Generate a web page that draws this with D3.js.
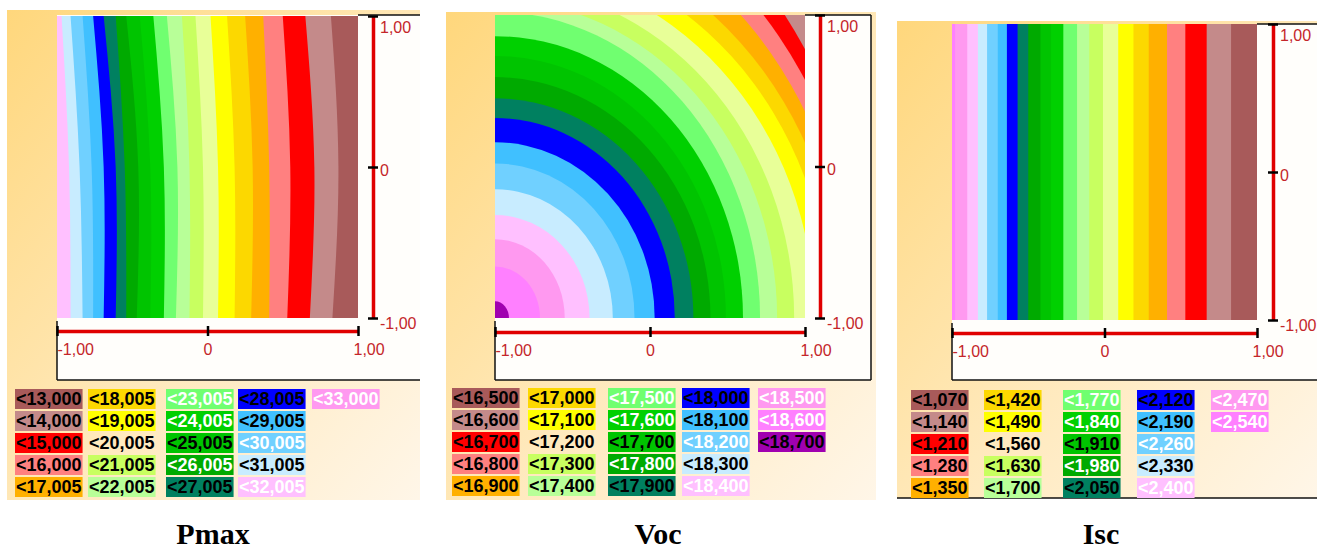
<!DOCTYPE html>
<html>
<head>
<meta charset="utf-8">
<script src="https://cdn.jsdelivr.net/npm/d3@7"></script>
<style>
  body { margin: 0; background: #fff; }
  svg { display: block; }
</style>
</head>
<body>
<svg id="chart" width="1317" height="551"></svg>
<script>
// colour of each band, from lowest level up
const bandColors = ['#a85a5a', '#c48a8a', '#ff0000', '#ff8080', '#ffb000', '#fcd800', '#ffff00',
  '#e8ff98', '#c8ff60', '#b8ff98', '#70ff70', '#00d000', '#00c400', '#00aa00', '#008060',
  '#0000ff', '#40c0ff', '#70d0ff', '#c8ecff', '#ffc0ff', '#ff99f0', '#ff80ff', '#a000b0'];
const legendTextColors = ['#000', '#000', '#000', '#000', '#000', '#000', '#000', '#000', '#000', '#000',
  '#fff', '#fff', '#000', '#fff', '#000', '#000', '#000', '#fff', '#000', '#fff', '#fff', '#fff', '#000'];

const pmaxLevels = [13.000, 14.000, 15.000, 16.000, 17.005, 18.005, 19.005, 20.005, 21.005, 22.005,
  23.005, 24.005, 25.005, 26.005, 27.005, 28.005, 29.005, 30.005, 31.005, 32.005, 33.000];
const vocLevels = [16.5, 16.6, 16.7, 16.8, 16.9, 17.0, 17.1, 17.2, 17.3, 17.4, 17.5, 17.6,
  17.7, 17.8, 17.9, 18.0, 18.1, 18.2, 18.3, 18.4, 18.5, 18.6, 18.7];
const iscLevels = [1.070, 1.140, 1.210, 1.280, 1.350, 1.420, 1.490, 1.560, 1.630, 1.700, 1.770,
  1.840, 1.910, 1.980, 2.050, 2.120, 2.190, 2.260, 2.330, 2.400, 2.470, 2.540];

// Pmax iso-lines: x where each level crosses y = 1, 0, -1
const pmaxLines = [
  [0.82, 0.87, 0.83], [0.65, 0.71, 0.68], [0.50, 0.55, 0.53], [0.37, 0.41, 0.41],
  [0.25, 0.30, 0.29], [0.13, 0.18, 0.18], [0.02, 0.07, 0.07], [-0.08, -0.03, -0.03],
  [-0.17, -0.12, -0.12], [-0.27, -0.20, -0.21], [-0.36, -0.29, -0.29], [-0.45, -0.38, -0.38],
  [-0.54, -0.46, -0.47], [-0.61, -0.55, -0.54], [-0.69, -0.61, -0.61], [-0.76, -0.69, -0.69],
  [-0.83, -0.77, -0.76], [-0.91, -0.85, -0.83], [-0.97, -0.92, -0.91]
];
// Voc iso-lines: reach along the bottom and along the left edge from the (-1,-1) corner
const vocLines = [
  [2.50, 3.45], [2.42, 3.15], [2.37, 2.93], [2.30, 2.76], [2.24, 2.57], [2.16, 2.44],
  [2.06, 2.32], [1.93, 2.20], [1.82, 2.10], [1.71, 2.02], [1.60, 1.86], [1.49, 1.73],
  [1.39, 1.59], [1.28, 1.45], [1.16, 1.32], [1.03, 1.16], [0.90, 1.02], [0.76, 0.85],
  [0.61, 0.68], [0.45, 0.52], [0.29, 0.34], [0.09, 0.11]
];
// Isc iso-lines: straight, x of each level
const iscLines = [0.83, 0.67, 0.53, 0.41, 0.29, 0.19, 0.09, -0.01, -0.10, -0.18, -0.27,
  -0.35, -0.42, -0.50, -0.57, -0.64, -0.70, -0.77, -0.83, -0.90, -0.98];

const tickValues = [-1, 0, 1];
const tickLabels = ['-1,00', '0', '1,00'];
const titles = ['Pmax', 'Voc', 'Isc'];

const fmt = d3.formatLocale({ decimal: ',', thousands: '.', grouping: [3], currency: ['', ''] }).format('.3f');

const svg = d3.select('#chart');
const defs = svg.append('defs');
const grad = defs.append('linearGradient').attr('id', 'peach')
  .attr('x1', 0).attr('y1', 0).attr('x2', 1).attr('y2', 1);
grad.append('stop').attr('offset', '0%').attr('stop-color', '#ffd77c');
grad.append('stop').attr('offset', '55%').attr('stop-color', '#ffe9bc');
grad.append('stop').attr('offset', '100%').attr('stop-color', '#fff6e8');

const rowYs = [1, 0, -1];

function stripes(lines) {
  return (plot, x, y) => {
    plot.append('rect')
      .attr('x', x(-1)).attr('y', y(1))
      .attr('width', x(1) - x(-1)).attr('height', y(-1) - y(1))
      .attr('fill', bandColors[lines.length]);
    const line = d3.line().x(d => x(d[0])).y(d => y(d[1])).curve(d3.curveNatural);
    plot.selectAll('path.band')
      .data(lines.map((l, k) => ({ k, l })).reverse())
      .join('path')
      .attr('class', 'band')
      .attr('fill', d => bandColors[d.k])
      .attr('d', d => line(rowYs.map((yy, j) => [d.l[j], yy])) +
        `L${x(1.1)},${y(-1)}L${x(1.1)},${y(1)}Z`);
  };
}

function rings(lines) {
  return (plot, x, y) => {
    plot.append('rect')
      .attr('x', x(-1)).attr('y', y(1))
      .attr('width', x(1) - x(-1)).attr('height', y(-1) - y(1))
      .attr('fill', bandColors[0]);
    plot.selectAll('ellipse')
      .data(lines.map((r, k) => ({ k, r })))
      .join('ellipse')
      .attr('cx', x(-1)).attr('cy', y(-1))
      .attr('rx', d => x(-1 + d.r[0]) - x(-1))
      .attr('ry', d => y(-1) - y(-1 + d.r[1]))
      .attr('fill', d => bandColors[d.k + 1]);
  };
}

const panels = [
  { bg: [7, 10, 413, 490], inner: [57, 15, 363, 365], plot: [57, 358, 16, 318], axisX: 373, axisY: 331,
    legendCols: [15, 88, 166, 238, 312], legendTop: 389, titleX: 213, rightBorder: false, bottomBorder: false,
    levels: pmaxLevels, draw: stripes(pmaxLines) },
  { bg: [446, 12, 430, 488], inner: [495, 15, 376, 365], plot: [495, 805, 15, 318], axisX: 820, axisY: 332,
    legendCols: [452, 528, 608, 682, 758], legendTop: 388, titleX: 658, rightBorder: true, bottomBorder: false,
    levels: vocLevels, draw: rings(vocLines) },
  { bg: [897, 21, 420, 477], inner: [952, 24, 365, 356], plot: [952, 1257, 24, 320], axisX: 1273, axisY: 333,
    legendCols: [911, 984, 1063, 1137, 1211], legendTop: 390, titleX: 1101, rightBorder: false, bottomBorder: true,
    levels: iscLevels, draw: stripes(iscLines.map(v => [v, v, v])) }
];

panels.forEach((p, i) => {
  const g = svg.append('g');
  g.append('rect').attr('x', p.bg[0]).attr('y', p.bg[1]).attr('width', p.bg[2]).attr('height', p.bg[3])
    .attr('fill', 'url(#peach)');
  g.append('rect').attr('x', p.inner[0]).attr('y', p.inner[1]).attr('width', p.inner[2]).attr('height', p.inner[3])
    .attr('fill', '#fffefb');

  const [ix, iy, iw, ih] = p.inner;
  const border = g.append('g').attr('stroke', '#111').attr('stroke-width', 1.5).attr('fill', 'none');
  border.append('line').attr('x1', ix).attr('x2', ix).attr('y1', p.plot[3] + 3).attr('y2', iy + ih);
  border.append('line').attr('x1', ix).attr('x2', ix + iw).attr('y1', iy + ih).attr('y2', iy + ih);
  border.append('line').attr('x1', p.plot[1]).attr('x2', ix + iw).attr('y1', iy).attr('y2', iy);
  if (p.rightBorder) border.append('line').attr('x1', ix + iw).attr('x2', ix + iw).attr('y1', iy).attr('y2', iy + ih);
  if (p.bottomBorder) border.append('line').attr('x1', p.bg[0]).attr('x2', p.bg[0] + p.bg[2])
    .attr('y1', p.bg[1] + p.bg[3]).attr('y2', p.bg[1] + p.bg[3]);

  const x = d3.scaleLinear().domain([-1, 1]).range([p.plot[0], p.plot[1]]);
  const y = d3.scaleLinear().domain([-1, 1]).range([p.plot[3], p.plot[2]]);

  defs.append('clipPath').attr('id', 'clip' + i).append('rect')
    .attr('x', x(-1)).attr('y', y(1)).attr('width', x(1) - x(-1)).attr('height', y(-1) - y(1));
  const plot = g.append('g').attr('clip-path', `url(#clip${i})`);
  p.draw(plot, x, y);

  // bottom axis
  const ax = g.append('g').attr('transform', `translate(0,${p.axisY})`)
    .call(d3.axisBottom(x).tickValues(tickValues).tickFormat((d, k) => tickLabels[k]).tickSizeOuter(0));
  ax.attr('font-family', 'Liberation Sans, Arial, sans-serif').attr('font-size', 16);
  ax.select('.domain').attr('stroke', '#e00000').attr('stroke-width', 3.5);
  ax.selectAll('.tick line').attr('stroke', '#000').attr('stroke-width', 2.5).attr('y1', -5).attr('y2', 5);
  ax.selectAll('.tick text').attr('fill', '#c4262a').attr('y', 13).attr('dy', '0.71em')
    .attr('text-anchor', (d, k) => k === 1 ? 'middle' : 'start')
    .attr('dx', (d, k) => k === 2 ? -5 : 0);

  // right axis
  const ay = g.append('g').attr('transform', `translate(${p.axisX},0)`)
    .call(d3.axisRight(y).tickValues(tickValues).tickFormat((d, k) => tickLabels[k]).tickSizeOuter(0));
  ay.attr('font-family', 'Liberation Sans, Arial, sans-serif').attr('font-size', 16);
  ay.select('.domain').attr('stroke', '#e00000').attr('stroke-width', 3.5);
  ay.selectAll('.tick line').attr('stroke', '#000').attr('stroke-width', 2.5).attr('x1', -5).attr('x2', 5);
  ay.selectAll('.tick text').attr('fill', '#c4262a').attr('x', 7).attr('dy', null)
    .attr('y', (d, k) => [10, 8, 16][k]);

  // legend
  const leg = g.append('g').attr('font-family', 'Liberation Sans, Arial, sans-serif')
    .attr('font-size', 18).attr('font-weight', 'bold');
  p.levels.forEach((lv, k) => {
    const lx = p.legendCols[Math.floor(k / 5)];
    const ly = p.legendTop + (k % 5) * 22;
    const e = leg.append('g');
    const r = e.append('rect').attr('x', lx).attr('y', ly).attr('height', 20)
      .attr('fill', k === 7 ? 'none' : bandColors[k]);
    const t = e.append('text').attr('x', lx + 1).attr('y', ly + 16)
      .attr('fill', legendTextColors[k]).text('<' + fmt(lv));
    r.attr('width', t.node().getComputedTextLength() + 2);
  });

  g.append('text').attr('x', p.titleX).attr('y', 544).attr('text-anchor', 'middle')
    .attr('font-family', 'Liberation Serif, Times New Roman, serif').attr('font-weight', 'bold')
    .attr('font-size', 30).text(titles[i]);
});
</script>
</body>
</html>
